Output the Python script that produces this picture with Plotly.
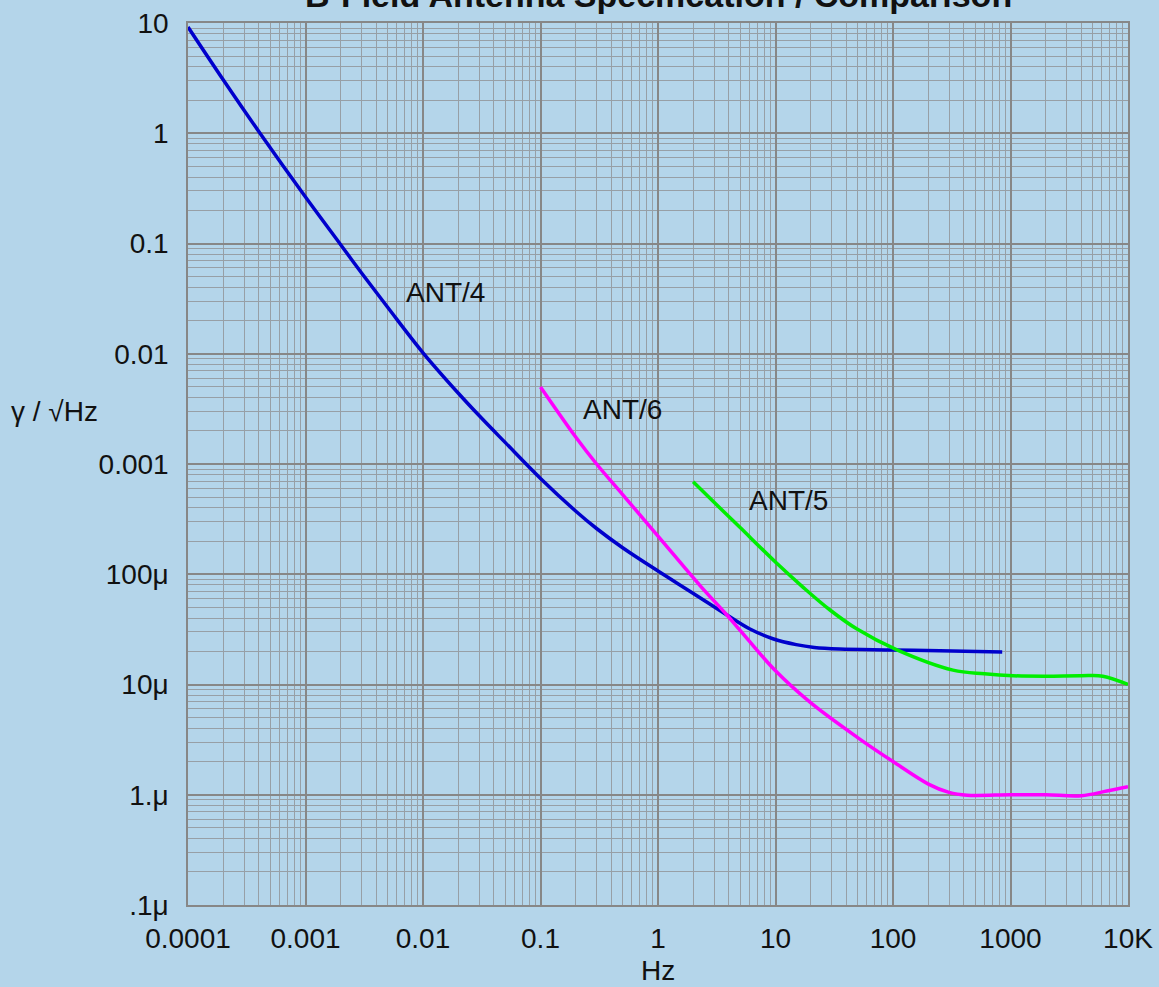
import plotly.graph_objects as go
import math

# ---- data ----
ant4_x = [1e-4, 2e-4, 4.1e-4, 1e-3, 2e-3, 3e-3, 5e-3, 1e-2, 2e-2, 3e-2, 5e-2, 0.1, 0.2, 0.3, 0.5,
          1.0, 2.0, 3.86, 6.0, 9.5, 15.0, 21.4, 35.0, 100.0, 250.0, 850.0]
ant4_y = [9.2, 3.04, 1.0, 0.264, 0.097, 0.054, 0.0264, 0.0102, 4.38e-3, 2.75e-3, 1.57e-3, 7.4e-4, 3.73e-4, 2.6e-4, 1.74e-4,
          1.07e-4, 6.7e-5, 4.27e-5, 3.2e-5, 2.6e-5, 2.3e-5, 2.17e-5, 2.1e-5, 2.06e-5, 2.02e-5, 1.97e-5]

ant6_x = [0.1, 0.2, 0.3, 0.5, 1.0, 2.28, 3.86, 5.0, 10.0, 20.0, 50.0, 100.0, 200.0, 300.0, 427.0,
          1000.0, 2000.0, 4000.0, 6600.0, 10000.0]
ant6_y = [5.0e-3, 1.75e-3, 1.0e-3, 5.28e-4, 2.22e-4, 7.9e-5, 4.27e-5, 3.1e-5, 1.33e-5, 6.8e-6, 3.3e-6, 2.0e-6, 1.25e-6, 1.05e-6, 0.99e-6,
          1.0e-6, 1.0e-6, 0.98e-6, 1.08e-6, 1.18e-6]

ant5_x = [1.99, 3.86, 5.0, 10.3, 17.1, 29.1, 49.0, 108.0, 324.0, 600.0, 1050.0, 2000.0, 4000.0, 6100.0, 10000.0]
ant5_y = [6.9e-4, 3.46e-4, 2.65e-4, 1.25e-4, 7.65e-5, 4.74e-5, 3.2e-5, 2.06e-5, 1.35e-5, 1.25e-5, 1.2e-5, 1.19e-5, 1.2e-5, 1.19e-5, 1.0e-5]

x_tickvals = [1e-4, 1e-3, 1e-2, 1e-1, 1, 10, 100, 1000, 10000]
x_ticktext = ["0.0001", "0.001", "0.01", "0.1", "1", "10", "100", "1000", "10K"]
y_tickvals = [10, 1, 0.1, 0.01, 0.001, 1e-4, 1e-5, 1e-6, 1e-7]
y_ticktext = ["10", "1", "0.1", "0.01", "0.001", "100\u03bc", "10\u03bc", "1.\u03bc", ".1\u03bc"]

labels = ["ANT/4", "ANT/6", "ANT/5"]
label_x = [0.0154, 0.494, 12.8]
label_y = [0.0356, 0.00309, 0.000471]

title_text = "B-Field Antenna Specification / Comparison"
x_title = "Hz"
y_title = "\u03b3 / \u221aHz"

BG = "#b4d5ea"
FONT = "Liberation Sans, Arial, sans-serif"
TXT = "#111111"

fig = go.Figure()
for xs, ys, col in [(ant4_x, ant4_y, "#0000cc"), (ant6_x, ant6_y, "#ff00ff"), (ant5_x, ant5_y, "#00ee00")]:
    fig.add_trace(go.Scatter(x=xs, y=ys, mode="lines",
                             line=dict(color=col, width=3.5, shape="spline", smoothing=1.0),
                             showlegend=False, hoverinfo="x+y"))

for t, lx, ly in zip(labels, label_x, label_y):
    fig.add_annotation(x=math.log10(lx), y=math.log10(ly), xref="x", yref="y", text=t,
                       showarrow=False, font=dict(family=FONT, size=28, color=TXT))

# axis titles and the (cropped) chart title
fig.add_annotation(x=-0.1415, y=0.559, xref="paper", yref="paper", text=y_title, showarrow=False,
                   xanchor="center", yanchor="middle", font=dict(family=FONT, size=28, color=TXT))
fig.add_annotation(x=0.5, y=-0.0737, xref="paper", yref="paper", text=x_title, showarrow=False,
                   xanchor="center", yanchor="middle", font=dict(family=FONT, size=28, color=TXT))
fig.add_annotation(x=0.5, y=1.0317, xref="paper", yref="paper", text="<b>" + title_text + "</b>",
                   showarrow=False, xanchor="center", yanchor="middle",
                   font=dict(family=FONT, size=34, color=TXT))

grid_major = "#878787"
grid_minor = "#979fa6"

common = dict(showgrid=True, gridcolor=grid_major, gridwidth=1.5,
              minor=dict(dtick="D1", showgrid=True, gridcolor=grid_minor, gridwidth=1, ticks=""),
              showline=True, linecolor=grid_major, linewidth=1.5, mirror=True, ticks="",
              tickfont=dict(family=FONT, size=28, color=TXT), zeroline=False, automargin=False)

fig.update_xaxes(type="log", range=[-4, 4], tickvals=x_tickvals, ticktext=x_ticktext,
                 ticklabelstandoff=8, **common)
fig.update_yaxes(type="log", range=[-7, 1], tickvals=y_tickvals, ticktext=y_ticktext,
                 ticklabelstandoff=12, **common)

fig.update_layout(
    width=1159, height=987,
    margin=dict(l=188, r=31, t=23, b=82, autoexpand=False),
    paper_bgcolor=BG, plot_bgcolor=BG,
    font=dict(family=FONT),
)

fig.write_html("out.html", config={"displayModeBar": False},
               post_script="document.body.style.margin='0';document.body.style.background='" + BG + "';"
                           "document.documentElement.style.background='" + BG + "';")
